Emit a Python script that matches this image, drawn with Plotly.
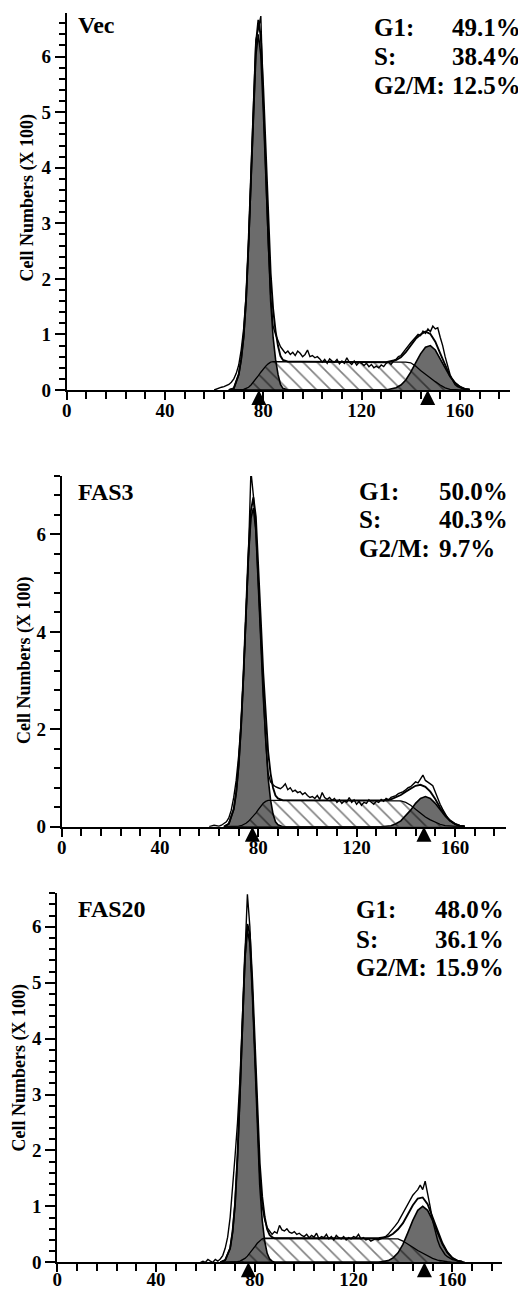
import plotly.graph_objects as go

# The page body adds an 8 px margin, so the figure is drawn 8 px smaller and
# every pixel position below is given in reference-page pixels minus that offset.
PAGE_W, PAGE_H = 526, 1291
OFF = 8
W, H = PAGE_W - OFF, PAGE_H - OFF

# ---------------- data ----------------
panel_names = ["Vec", "FAS3", "FAS20"]
g1_pct = ["49.1%", "50.0%", "48.0%"]
s_pct = ["38.4%", "40.3%", "36.1%"]
g2m_pct = ["12.5%", "9.7%", "15.9%"]
g1_mean = [78.2, 77.6, 77.4]
g2_mean = [146.9, 147.4, 148.7]

# model curve channels (shared by all panels)
model_x = [66, 68, 70, 71, 72, 73, 74, 75, 76, 77, 78, 79, 80, 81, 82, 83, 84, 85, 86, 87, 88,
           90, 95, 100, 110, 120, 130,
           134, 136, 138, 140, 142, 144, 146, 148, 150, 152, 154, 156, 158, 160, 162, 164]

# ---- Vec ----
vec_g1 = [0, 0.03, 0.28, 0.55, 0.95, 1.60, 2.60, 3.80, 5.04, 6.03, 6.40, 6.03, 5.04, 3.80, 2.60, 1.60, 0.95, 0.55, 0.28, 0.10, 0.03,
          0, 0, 0, 0, 0, 0,
          0, 0, 0, 0, 0, 0, 0, 0, 0, 0, 0, 0, 0, 0, 0, 0]
vec_s = [0, 0, 0, 0, 0.01, 0.03, 0.05, 0.09, 0.14, 0.20, 0.26, 0.32, 0.38, 0.43, 0.47, 0.50, 0.51, 0.51, 0.51, 0.51, 0.51,
         0.51, 0.51, 0.51, 0.50, 0.50, 0.50,
         0.50, 0.50, 0.50, 0.49, 0.43, 0.35, 0.28, 0.21, 0.15, 0.09, 0.04, 0.01, 0, 0, 0, 0]
vec_g2 = [0, 0, 0, 0, 0, 0, 0, 0, 0, 0, 0, 0, 0, 0, 0, 0, 0, 0, 0, 0, 0,
          0, 0, 0, 0, 0, 0,
          0.04, 0.09, 0.18, 0.32, 0.49, 0.65, 0.77, 0.80, 0.72, 0.57, 0.40, 0.24, 0.13, 0.06, 0.02, 0.01]
vec_fit = [0, 0.03, 0.28, 0.55, 0.96, 1.63, 2.65, 3.89, 5.18, 6.23, 6.66, 6.35, 5.42, 4.23, 3.07, 2.10, 1.46, 1.06, 0.79, 0.61, 0.54,
           0.51, 0.51, 0.51, 0.50, 0.50, 0.50,
           0.54, 0.59, 0.68, 0.81, 0.92, 1.00, 1.05, 1.01, 0.87, 0.66, 0.44, 0.25, 0.13, 0.06, 0.02, 0.01]
vec_data_x0 = 60
vec_data = [0, 0.02, 0.03, 0.05, 0.06, 0.08, 0.10, 0.14, 0.20, 0.30,
            0.45, 0.72, 1.10, 1.70, 2.65, 3.90, 5.15, 6.30, 6.50, 6.73,
            5.20, 3.90, 2.65, 1.70, 1.15, 1.00, 0.88, 0.78, 0.72, 0.66,
            0.70, 0.64, 0.68, 0.62, 0.70, 0.66, 0.60, 0.64, 0.72, 0.60,
            0.62, 0.58, 0.60, 0.56, 0.50, 0.55, 0.48, 0.56, 0.52, 0.50,
            0.55, 0.47, 0.52, 0.48, 0.58, 0.50, 0.46, 0.52, 0.45, 0.50,
            0.48, 0.44, 0.48, 0.42, 0.46, 0.40, 0.43, 0.40, 0.45, 0.42,
            0.48, 0.50, 0.46, 0.52, 0.55, 0.60, 0.62, 0.68, 0.75, 0.80,
            0.85, 0.90, 0.95, 1.00, 0.98, 1.06, 1.02, 1.10, 1.05, 1.15,
            1.10, 1.12, 0.95, 0.80, 0.60, 0.42, 0.28, 0.18, 0.10, 0.06,
            0.04, 0.02, 0.01, 0]

# ---- FAS3 ----
fas3_g1 = [0, 0.06, 0.36, 0.70, 1.25, 2.05, 3.12, 4.36, 5.53, 6.33, 6.54, 6.08, 5.09, 3.84, 2.68, 1.70, 1.00, 0.55, 0.26, 0.10, 0.04,
           0, 0, 0, 0, 0, 0,
           0, 0, 0, 0, 0, 0, 0, 0, 0, 0, 0, 0, 0, 0, 0, 0]
fas3_s = [0, 0, 0, 0, 0.01, 0.02, 0.04, 0.07, 0.11, 0.16, 0.22, 0.28, 0.35, 0.42, 0.48, 0.52, 0.54, 0.54, 0.54, 0.54, 0.54,
          0.54, 0.54, 0.54, 0.54, 0.54, 0.54,
          0.54, 0.54, 0.53, 0.50, 0.44, 0.36, 0.28, 0.20, 0.14, 0.09, 0.05, 0.02, 0.01, 0, 0, 0]
fas3_g2 = [0, 0, 0, 0, 0, 0, 0, 0, 0, 0, 0, 0, 0, 0, 0, 0, 0, 0, 0, 0, 0,
           0, 0, 0, 0, 0, 0,
           0.02, 0.06, 0.12, 0.22, 0.34, 0.48, 0.58, 0.62, 0.58, 0.48, 0.34, 0.22, 0.12, 0.06, 0.02, 0.01]
fas3_fit = [0, 0.06, 0.36, 0.70, 1.26, 2.07, 3.16, 4.43, 5.64, 6.49, 6.76, 6.36, 5.44, 4.26, 3.16, 2.22, 1.54, 1.09, 0.80, 0.64, 0.58,
            0.54, 0.54, 0.54, 0.54, 0.54, 0.54,
            0.56, 0.60, 0.65, 0.72, 0.78, 0.84, 0.86, 0.82, 0.72, 0.57, 0.39, 0.24, 0.13, 0.06, 0.02, 0.01]
fas3_data_x0 = 60
fas3_data = [0, 0.02, 0.03, 0.02, 0.01, 0.03, 0.06, 0.10, 0.18, 0.34,
             0.60, 0.95, 1.45, 2.15, 3.15, 4.35, 5.60, 7.30, 6.80, 6.10,
             5.00, 3.80, 2.75, 1.75, 1.10, 0.92, 0.86, 0.82, 0.80, 0.78,
             0.82, 0.88, 0.76, 0.80, 0.72, 0.75, 0.70, 0.72, 0.66, 0.70,
             0.64, 0.60, 0.62, 0.58, 0.64, 0.56, 0.70, 0.60, 0.56, 0.60,
             0.54, 0.58, 0.50, 0.55, 0.48, 0.53, 0.50, 0.60, 0.50, 0.55,
             0.46, 0.52, 0.44, 0.50, 0.48, 0.55, 0.50, 0.46, 0.52, 0.50,
             0.56, 0.52, 0.58, 0.55, 0.60, 0.62, 0.64, 0.68, 0.70, 0.72,
             0.76, 0.80, 0.82, 0.88, 0.92, 0.90, 0.98, 1.06, 0.95, 0.92,
             0.88, 0.84, 0.70, 0.58, 0.46, 0.36, 0.26, 0.18, 0.12, 0.08,
             0.05, 0.03, 0.02, 0.01, 0]

# ---- FAS20 ----
fas20_g1 = [0, 0.04, 0.25, 0.55, 1.05, 1.90, 3.03, 4.33, 5.42, 5.94, 5.71, 4.81, 3.55, 2.35, 1.38, 0.75, 0.38, 0.16, 0.06, 0.02, 0,
            0, 0, 0, 0, 0, 0,
            0, 0, 0, 0, 0, 0, 0, 0, 0, 0, 0, 0, 0, 0, 0, 0]
fas20_s = [0, 0, 0, 0, 0, 0.01, 0.02, 0.04, 0.07, 0.11, 0.16, 0.22, 0.28, 0.34, 0.39, 0.42, 0.43, 0.43, 0.43, 0.43, 0.43,
           0.43, 0.43, 0.43, 0.43, 0.43, 0.43,
           0.43, 0.43, 0.42, 0.38, 0.33, 0.27, 0.21, 0.16, 0.11, 0.07, 0.04, 0.02, 0.01, 0, 0, 0]
fas20_g2 = [0, 0, 0, 0, 0, 0, 0, 0, 0, 0, 0, 0, 0, 0, 0, 0, 0, 0, 0, 0, 0,
            0, 0, 0, 0, 0, 0,
            0.03, 0.08, 0.17, 0.32, 0.53, 0.75, 0.93, 1.00, 0.93, 0.75, 0.53, 0.32, 0.17, 0.08, 0.03, 0.01]
fas20_fit = [0, 0.04, 0.25, 0.55, 1.05, 1.91, 3.05, 4.37, 5.49, 6.05, 5.87, 5.03, 3.83, 2.69, 1.77, 1.17, 0.81, 0.59, 0.49, 0.45, 0.43,
             0.43, 0.43, 0.43, 0.43, 0.43, 0.43,
             0.46, 0.51, 0.59, 0.70, 0.86, 1.02, 1.14, 1.16, 1.04, 0.82, 0.57, 0.34, 0.18, 0.08, 0.03, 0.01]
fas20_data_x0 = 58
fas20_data = [0, 0.02, 0.00, 0.05, 0.02, 0.00, 0.05, 0.02, 0.06, 0.12,
              0.25, 0.45, 0.80, 1.30, 1.90, 2.50, 3.30, 4.40, 5.60, 6.58,
              6.00, 4.90, 3.60, 2.45, 1.55, 1.00, 0.76, 0.62, 0.56, 0.50,
              0.55, 0.52, 0.66, 0.58, 0.56, 0.60, 0.54, 0.52, 0.55, 0.50,
              0.52, 0.48, 0.46, 0.50, 0.44, 0.48, 0.45, 0.52, 0.42, 0.46,
              0.44, 0.50, 0.42, 0.46, 0.40, 0.48, 0.44, 0.42, 0.46, 0.40,
              0.44, 0.42, 0.46, 0.44, 0.50, 0.42, 0.44, 0.40, 0.42, 0.38,
              0.40, 0.42, 0.40, 0.42, 0.44, 0.46, 0.50, 0.55, 0.60, 0.66,
              0.72, 0.80, 0.88, 0.98, 1.06, 1.14, 1.20, 1.25, 1.30, 1.38,
              1.30, 1.45, 1.25, 1.00, 0.75, 0.55, 0.40, 0.28, 0.20, 0.14,
              0.10, 0.07, 0.05, 0.04, 0.03, 0.02, 0.01, 0]

# ---------------- layout per panel (reference-page pixel geometry) ----------------
panels = [
    dict(g1=vec_g1, s=vec_s, g2=vec_g2, fit=vec_fit, data=vec_data, x0=vec_data_x0,
         xpx=(66.7, 510.0), ypx=(12.7, 390.0), xr=[0, 180.4], yr=[0, 6.79], ydt=1, ymin=0.2,
         name_y=25, rows=(27, 56.5, 85), lab_x=371.5, val_x=450, title=(27.5, 198), xstand=-6),
    dict(g1=fas3_g1, s=fas3_s, g2=fas3_g2, fit=fas3_fit, data=fas3_data, x0=fas3_data_x0,
         xpx=(61.7, 506.0), ypx=(476.0, 826.7), xr=[0, 180.8], yr=[0, 7.2], ydt=2, ymin=0.4,
         name_y=491.5, rows=(491.7, 520, 548.5), lab_x=357, val_x=437, title=(25, 661), xstand=-6),
    dict(g1=fas20_g1, s=fas20_s, g2=fas20_g2, fit=fas20_fit, data=fas20_data, x0=fas20_data_x0,
         xpx=(57.3, 501.7), ypx=(892.7, 1262.3), xr=[0, 180.0], yr=[0, 6.61], ydt=1, ymin=0.2,
         name_y=908.5, rows=(909, 939.5, 967.5), lab_x=354, val_x=433, title=(18.5, 1068), xstand=-9),
]


def px_x(v):
    return (v - OFF) / W


def px_y(v):
    return 1 - (v - OFF) / H


FONT = "Liberation Serif"
GRAY = "rgb(108,108,108)"

fig = go.Figure()
annotations = []
layout_axes = {}

for i, p in enumerate(panels):
    sfx = "" if i == 0 else str(i + 1)
    xa, ya = "x" + sfx, "y" + sfx
    common = dict(xaxis=xa, yaxis=ya, showlegend=False, hoverinfo="skip")

    fig.add_trace(go.Scatter(x=model_x, y=p["g1"], mode="lines", fill="tozeroy", fillcolor=GRAY,
                             line=dict(color="black", width=1.6), **common))
    fig.add_trace(go.Scatter(x=model_x, y=p["g2"], mode="lines", fill="tozeroy", fillcolor=GRAY,
                             line=dict(color="black", width=1.6), **common))
    fig.add_trace(go.Scatter(x=model_x, y=p["s"], mode="lines", fill="tozeroy",
                             fillcolor="rgba(0,0,0,0)",
                             fillpattern=dict(shape="\\", fgcolor="black", bgcolor="rgba(0,0,0,0)",
                                              size=10, solidity=0.16),
                             line=dict(color="black", width=1.3), **common))
    fig.add_trace(go.Scatter(y=p["data"], x0=p["x0"], dx=1, mode="lines",
                             line=dict(color="black", width=1.4), **common))
    fig.add_trace(go.Scatter(x=model_x, y=p["fit"], mode="lines",
                             line=dict(color="black", width=1.9), **common))
    fig.add_trace(go.Scatter(x=[g1_mean[i], g2_mean[i]], y=[0, 0], mode="markers", cliponaxis=False,
                             marker=dict(symbol="arrow-up", size=15, color="black", line=dict(width=0)),
                             **common))

    x0p, x1p = p["xpx"]
    y0p, y1p = p["ypx"]
    layout_axes["xaxis" + sfx] = dict(
        domain=[px_x(x0p), px_x(x1p)], anchor=ya, range=p["xr"], dtick=40, tick0=0,
        showline=True, linecolor="black", linewidth=2, ticks="outside", ticklen=8, tickwidth=2,
        tickcolor="black", showgrid=False, zeroline=False, automargin=False,
        ticklabelstandoff=p["xstand"],
        tickfont=dict(family=FONT, size=19, color="black", weight="bold"),
        minor=dict(dtick=8, tick0=0, ticks="outside", ticklen=7, tickwidth=1.5, tickcolor="black",
                   showgrid=False),
    )
    layout_axes["yaxis" + sfx] = dict(
        domain=[px_y(y1p), px_y(y0p)], anchor=xa, range=p["yr"], dtick=p["ydt"], tick0=0,
        showline=True, linecolor="black", linewidth=2, ticks="outside", ticklen=10, tickwidth=2,
        tickcolor="black", showgrid=False, zeroline=False, automargin=False,
        tickfont=dict(family=FONT, size=19, color="black", weight="bold"),
        minor=dict(dtick=p["ymin"], tick0=0, ticks="outside", ticklen=6, tickwidth=1.5,
                   tickcolor="black", showgrid=False),
    )

    tf = dict(family=FONT, color="black", weight="bold")
    annotations.append(dict(text=panel_names[i], x=px_x(76), y=px_y(p["name_y"]), xref="paper", yref="paper",
                            xanchor="left", yanchor="middle", showarrow=False, font=dict(size=24, **tf)))
    for lab, val, ry in zip(["G1:", "S:", "G2/M:"], [g1_pct[i], s_pct[i], g2m_pct[i]], p["rows"]):
        annotations.append(dict(text=lab, x=px_x(p["lab_x"]), y=px_y(ry), xref="paper", yref="paper",
                                xanchor="left", yanchor="middle", showarrow=False, font=dict(size=25, **tf)))
        annotations.append(dict(text=val, x=px_x(p["val_x"]), y=px_y(ry), xref="paper", yref="paper",
                                xanchor="left", yanchor="middle", showarrow=False, font=dict(size=25, **tf)))
    tx, ty = p["title"]
    annotations.append(dict(text="Cell Numbers (X 100)", x=px_x(tx), y=px_y(ty), xref="paper", yref="paper",
                            xanchor="center", yanchor="middle", textangle=-90, showarrow=False,
                            font=dict(size=18, **tf)))

fig.update_layout(
    width=W, height=H, margin=dict(l=0, r=0, t=0, b=0),
    paper_bgcolor="white", plot_bgcolor="white",
    annotations=annotations, showlegend=False, **layout_axes,
)

fig.write_html("out.html")
